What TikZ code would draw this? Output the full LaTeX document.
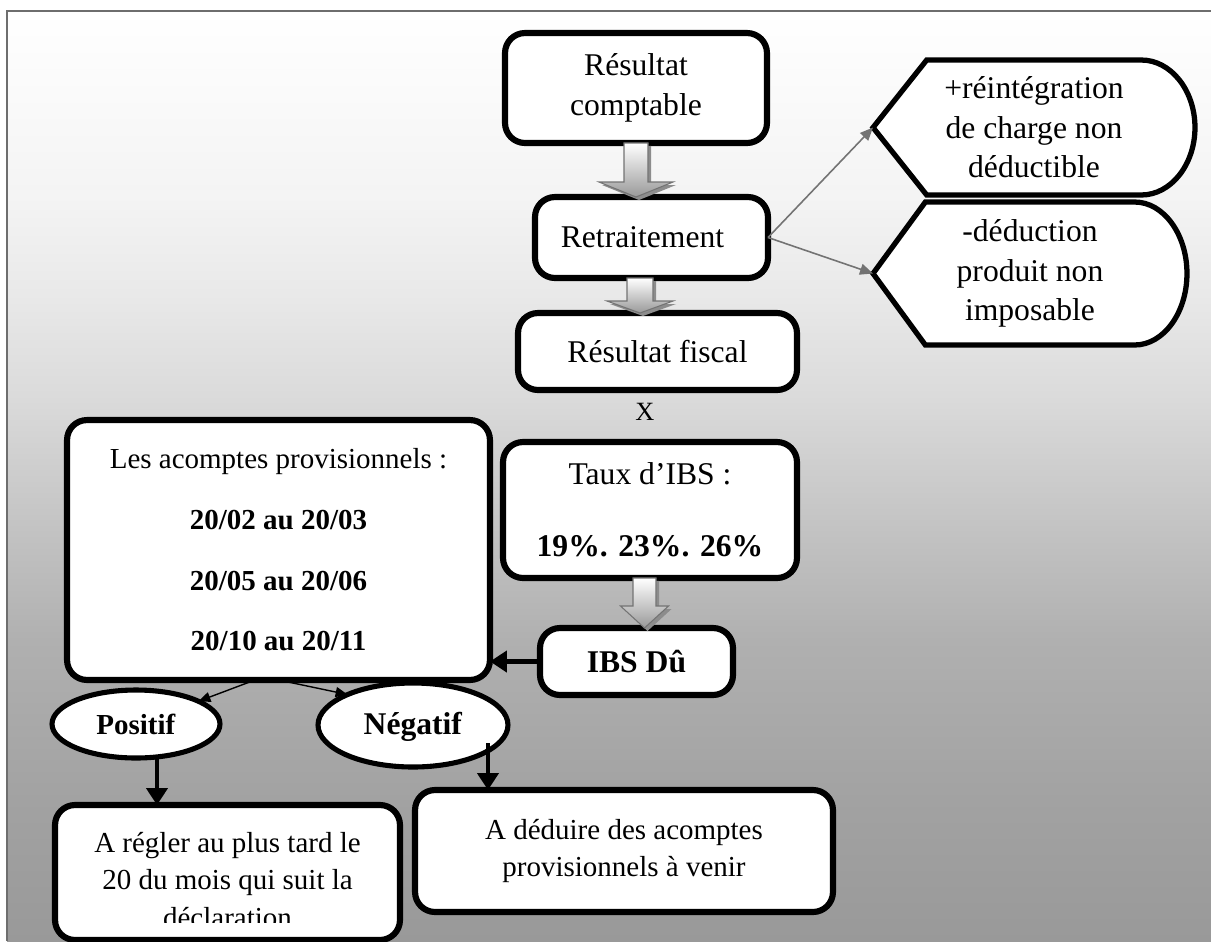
\documentclass[tikz,border=0pt]{standalone}
\usepackage{fontspec}
\setmainfont{Liberation Serif}
\usetikzlibrary{calc,arrows.meta,shapes.geometric,backgrounds}

\newcommand{\bigarrow}[5]{%
	\path[fill=black!45, transform canvas={xshift=0.06cm, yshift=-0.06cm}] ($(#1)+(-#3,0)$) -- ($(#1 |- #2)+(-#3,-#5)$) -- ($(#1 |- #2)+(-#4,-#5)$) -- (#1 |- #2) -- ($(#1 |- #2)+(#4,-#5)$) -- ($(#1 |- #2)+(#3,-#5)$) -- ($(#1)+(#3,0)$) -- cycle;
	\path[blockarr] ($(#1)+(-#3,0)$) -- ($(#1 |- #2)+(-#3,-#5)$) -- ($(#1 |- #2)+(-#4,-#5)$) -- (#1 |- #2) -- ($(#1 |- #2)+(#4,-#5)$) -- ($(#1 |- #2)+(#3,-#5)$) -- ($(#1)+(#3,0)$) -- cycle;}

\newcommand{\displaycontour}[1]{%
	\path[ecranbord] (#1.west) -- ($(#1.north west)!1/6!(#1.north east)$) -- ($(#1.north west)!5/6!(#1.north east)$) .. controls ($(#1.north west)!0.925!(#1.north east)$) and ($(#1.east)!0.552!(#1.north east)$) .. (#1.east) .. controls ($(#1.east)!0.552!(#1.south east)$) and ($(#1.south west)!0.925!(#1.south east)$) .. ($(#1.south west)!5/6!(#1.south east)$) -- ($(#1.south west)!1/6!(#1.south east)$) -- cycle;}

\begin{document}
\begin{tikzpicture}[x=0.02cm, y=-0.02cm,
		boite/.style={draw, line width=3.5pt, rounded corners=0.4cm, fill=white, align=center, inner sep=0pt, outer sep=0pt, font=\fontsize{18}{23}\selectfont},
		petit/.style={font=\fontsize{16.5}{21.5}\selectfont},
		bulle/.style={ellipse, draw, line width=2.9pt, fill=white, inner sep=0pt, outer sep=0pt},
		ecran/.style={align=center, inner sep=0pt, outer sep=0pt, font=\fontsize{18}{22.5}\selectfont},
		ecranbord/.style={draw, line width=3pt, fill=white},
		blockarr/.style={draw=black!55, line width=0.6pt, top color=white, bottom color=black!40},
		fine/.style={-{Triangle[length=0.26cm,width=0.22cm]}, draw=black!55, line width=0.9pt},
		finenoir/.style={-{Triangle[length=0.24cm,width=0.2cm]}, line width=0.8pt},
		grosse/.style={-{Triangle[length=0.34cm,width=0.42cm]}, line width=2.8pt}]
	\useasboundingbox (0,0) rectangle (1211,941);

	\node[boite, minimum width=5.24cm, minimum height=2.2cm] (comptable) at (636,88) {Résultat\\comptable};
	\node[boite, minimum width=4.66cm, minimum height=1.62cm] (retr) at (651.5,237.5) {Retraitement\hspace*{0.36cm}};
	\node[boite, minimum width=5.58cm, minimum height=1.54cm] (fiscal) at (657.5,351.5) {Résultat fiscal};
	\node[font=\fontsize{15}{18}\selectfont] (fois) at (645,412) {X};
	\node[boite, minimum width=5.88cm, minimum height=2.72cm] (taux) at (650,510) {Taux d’IBS :\\[18pt]\textbf{19\%. 23\%. 26\%}};
	\node[boite, minimum width=3.86cm, minimum height=1.34cm] (ibs) at (636.5,661.5) {\textbf{IBS Dû}};
	\node[boite, petit, minimum width=8.46cm, minimum height=5.2cm] (acomptes) at (278.5,550) {Les acomptes provisionnels :\\[13pt]\textbf{20/02 au 20/03}\\[13pt]\textbf{20/05 au 20/06}\\[13pt]\textbf{20/10 au 20/11}};
	\node[bulle, petit, minimum width=3.36cm, minimum height=1.36cm] (positif) at (136,724) {\textbf{Positif}};
	\node[bulle, font=\fontsize{18}{22}\selectfont, text height=14pt, text depth=3pt, minimum width=3.8cm, minimum height=1.68cm] (negatif) at (413,725) {\textbf{Négatif}};
	\node[boite, minimum width=6.9cm, minimum height=2.7cm] (regler) at (227.5,872.5) {};
	\begin{scope}
		\clip (regler.north west) rectangle ([yshift=0.36cm]regler.south east);
		\node[ecran, petit] (reglertxt) at ([yshift=-0.15cm]regler.center) {A régler au plus tard le\\20 du mois qui suit la\\déclaration};
	\end{scope}
	\node[boite, petit, minimum width=8.36cm, minimum height=2.44cm] (deduire) at (624,851) {A déduire des acomptes\\provisionnels à venir};

	\node[ecran, minimum width=6.44cm, minimum height=2.7cm] (plus) at (1034,127.5) {+réintégration\\de charge non\\déductible};
	\node[ecran, minimum width=6.28cm, minimum height=2.86cm] (moins) at (1030,273.5) {-déduction\\produit non\\imposable};

	\begin{scope}[on background layer]
		\fill[white] (0,0) rectangle (1211,941);
		\foreach \ya/\yb/\ca/\cb in {11/200/0/4.5, 200/300/4.5/9, 300/400/9/14.5, 400/520/14.5/23, 520/640/23/31, 640/800/31/36.5, 800/941/36.5/40}
			\shade[top color=black!\ca, bottom color=black!\cb] (7,\ya) rectangle (1211,\yb+1);
		\draw[black!57, line width=1.1pt] (7,941) -- (7,11) -- (1211,11);
		\displaycontour{plus}
		\displaycontour{moins}
	\end{scope}

	\coordinate (f2) at ([xshift=-0.23cm]retr.south);
	\coordinate (f3) at ([xshift=-0.11cm]taux.south);
	\bigarrow{comptable.south}{retr.north}{12}{37}{15}
	\bigarrow{f2}{fiscal.north}{13}{33}{12}
	\bigarrow{f3}{ibs.north}{11.5}{24}{22}

	\draw[fine] (retr.east) -- (plus.west);
	\draw[fine] (retr.east) -- (moins.west);

	\draw[finenoir] ([xshift=-0.47cm]acomptes.south) -- (positif.20);
	\draw[finenoir] (acomptes.south) -- (negatif.155);

	\coordinate (p1) at ([xshift=0.42cm]positif.south);
	\coordinate (n1) at ([shift={(-0.4cm,-0.36cm)}]negatif.east);
	\draw[grosse] (ibs.west) -- (acomptes.east |- ibs.west);
	\draw[grosse] (p1) -- (p1 |- regler.north);
	\draw[grosse] (n1) -- (n1 |- deduire.north);
\end{tikzpicture}
\end{document}
